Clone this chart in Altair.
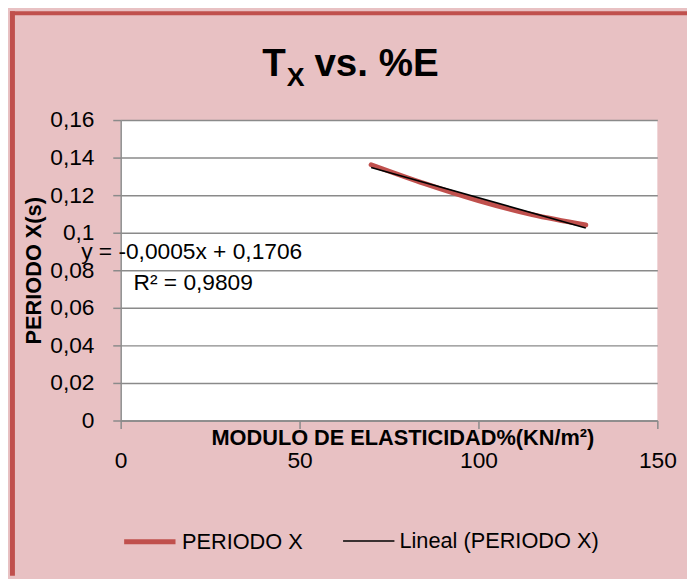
import altair as alt
import pandas as pd

# ---- data ----
modulo = [70, 85, 100, 115, 130]
periodo = [0.1362, 0.1261, 0.1171, 0.1096, 0.1041]
serie_name = "PERIODO X"
trend_name = "Lineal (PERIODO X)"
x_ticks = [0, 50, 100, 150]
y_ticks = [0, 0.02, 0.04, 0.06, 0.08, 0.10, 0.12, 0.14, 0.16]
equation = "y = -0,0005x + 0,1706"
r_squared = "R² = 0,9809"
x_title = "MODULO DE ELASTICIDAD%(KN/m²)"
y_title = "PERIODO X(s)"

df = pd.DataFrame({"modulo": modulo, "periodo": periodo, "serie": [serie_name] * len(modulo)})

W, H = 543, 304
FONT = "Liberation Sans, Arial, sans-serif"
RED = "#C0504D"
GRID = "#8A8A8A"
BG = "#E8C1C3"

domain = [serie_name, trend_name]
color_scale = alt.Scale(domain=domain, range=[RED, "#000000"])
width_scale = alt.Scale(domain=domain, range=[5, 1.6])

legend = alt.Legend(
    title=None, orient="none", legendX=1, legendY=398, direction="horizontal",
    symbolType="stroke", symbolSize=2700, labelFontSize=22, labelFont=FONT,
    labelColor="black", labelOffset=4, columnPadding=36, padding=0, labelLimit=400,
)

x_enc = alt.X(
    "modulo:Q",
    scale=alt.Scale(domain=[0, 150], nice=False, zero=True),
    axis=alt.Axis(
        values=x_ticks, title=x_title, grid=False, labelFontSize=23, labelFont=FONT,
        labelColor="black", labelBaseline="middle", labelPadding=33, tickSize=8,
        titleFont=FONT, titleFontSize=22, titleFontWeight="bold", titleColor="black",
        titleX=285, titleY=17, titleBaseline="middle", titleAlign="center",
        labelFlush=False, labelOverlap=False,
    ),
)
y_enc = alt.Y(
    "periodo:Q",
    scale=alt.Scale(domain=[0, 0.16], nice=False),
    axis=alt.Axis(
        values=y_ticks, title=y_title, grid=True,
        labelExpr="replace(format(datum.value, '.2~f'), '.', ',')",
        labelFontSize=23, labelFont=FONT, labelColor="black", labelPadding=19, tickSize=8,
        titleFont=FONT, titleFontSize=22, titleFontWeight="bold", titleColor="black",
        titleX=-88, titleY=152, titleAngle=270, titleAlign="center", titleBaseline="middle",
        labelFlush=False, labelOverlap=False,
    ),
)

base = alt.Chart(df)

data_line = base.mark_line(interpolate="monotone", strokeCap="round").encode(
    x=x_enc, y=y_enc,
    color=alt.Color("serie:N", scale=color_scale, legend=legend),
    strokeWidth=alt.StrokeWidth("serie:N", scale=width_scale, legend=legend),
)

trend_line = base.transform_regression(
    "modulo", "periodo", extent=[70, 130]
).transform_calculate(
    serie=f"'{trend_name}'"
).mark_line().encode(
    x=x_enc, y=y_enc,
    color=alt.Color("serie:N", scale=color_scale, legend=legend),
    strokeWidth=alt.StrokeWidth("serie:N", scale=width_scale, legend=legend),
)

one = pd.DataFrame({"k": [0]})

eq_text = alt.Chart(one).mark_text(
    text=equation, align="left", baseline="middle", fontSize=23, font=FONT, color="black"
).encode(x=alt.value(-40), y=alt.value(134))
r2_text = alt.Chart(one).mark_text(
    text=r_squared, align="left", baseline="middle", fontSize=23, font=FONT, color="black"
).encode(x=alt.value(13), y=alt.value(165))

title_t = alt.Chart(one).mark_text(
    text="T", align="right", baseline="alphabetic", fontSize=39, font=FONT,
    fontWeight="bold", color="black"
).encode(x=alt.value(167), y=alt.value(-45))
title_x = alt.Chart(one).mark_text(
    text="X", align="left", baseline="alphabetic", fontSize=27, font=FONT,
    fontWeight="bold", color="black"
).encode(x=alt.value(168), y=alt.value(-34))
title_rest = alt.Chart(one).mark_text(
    text="vs. %E", align="left", baseline="alphabetic", fontSize=39, font=FONT,
    fontWeight="bold", color="black"
).encode(x=alt.value(196), y=alt.value(-45))

border_left = alt.Chart(one).mark_rect(color=RED).encode(
    x=alt.value(-112), x2=alt.value(-107), y=alt.value(-110), y2=alt.value(461)
)
border_top = alt.Chart(one).mark_rect(color=RED).encode(
    x=alt.value(-112), x2=alt.value(573), y=alt.value(-110), y2=alt.value(-106)
)

chart = alt.layer(
    border_left, border_top, data_line, trend_line, eq_text, r2_text,
    title_t, title_x, title_rest,
).properties(
    width=W, height=H,
    autosize=alt.AutoSizeParams(type="none"),
    padding={"left": 114, "top": 110, "right": 30, "bottom": 157},
    background=BG,
).configure_view(
    fill="white", stroke=None
).configure_axis(
    domainColor=GRID, domainWidth=1.5, tickColor=GRID, tickWidth=1.5,
    gridColor=GRID, gridWidth=1.5, gridOpacity=1,
)

chart.save("out.html", embed_options={"renderer": "svg", "actions": False})
